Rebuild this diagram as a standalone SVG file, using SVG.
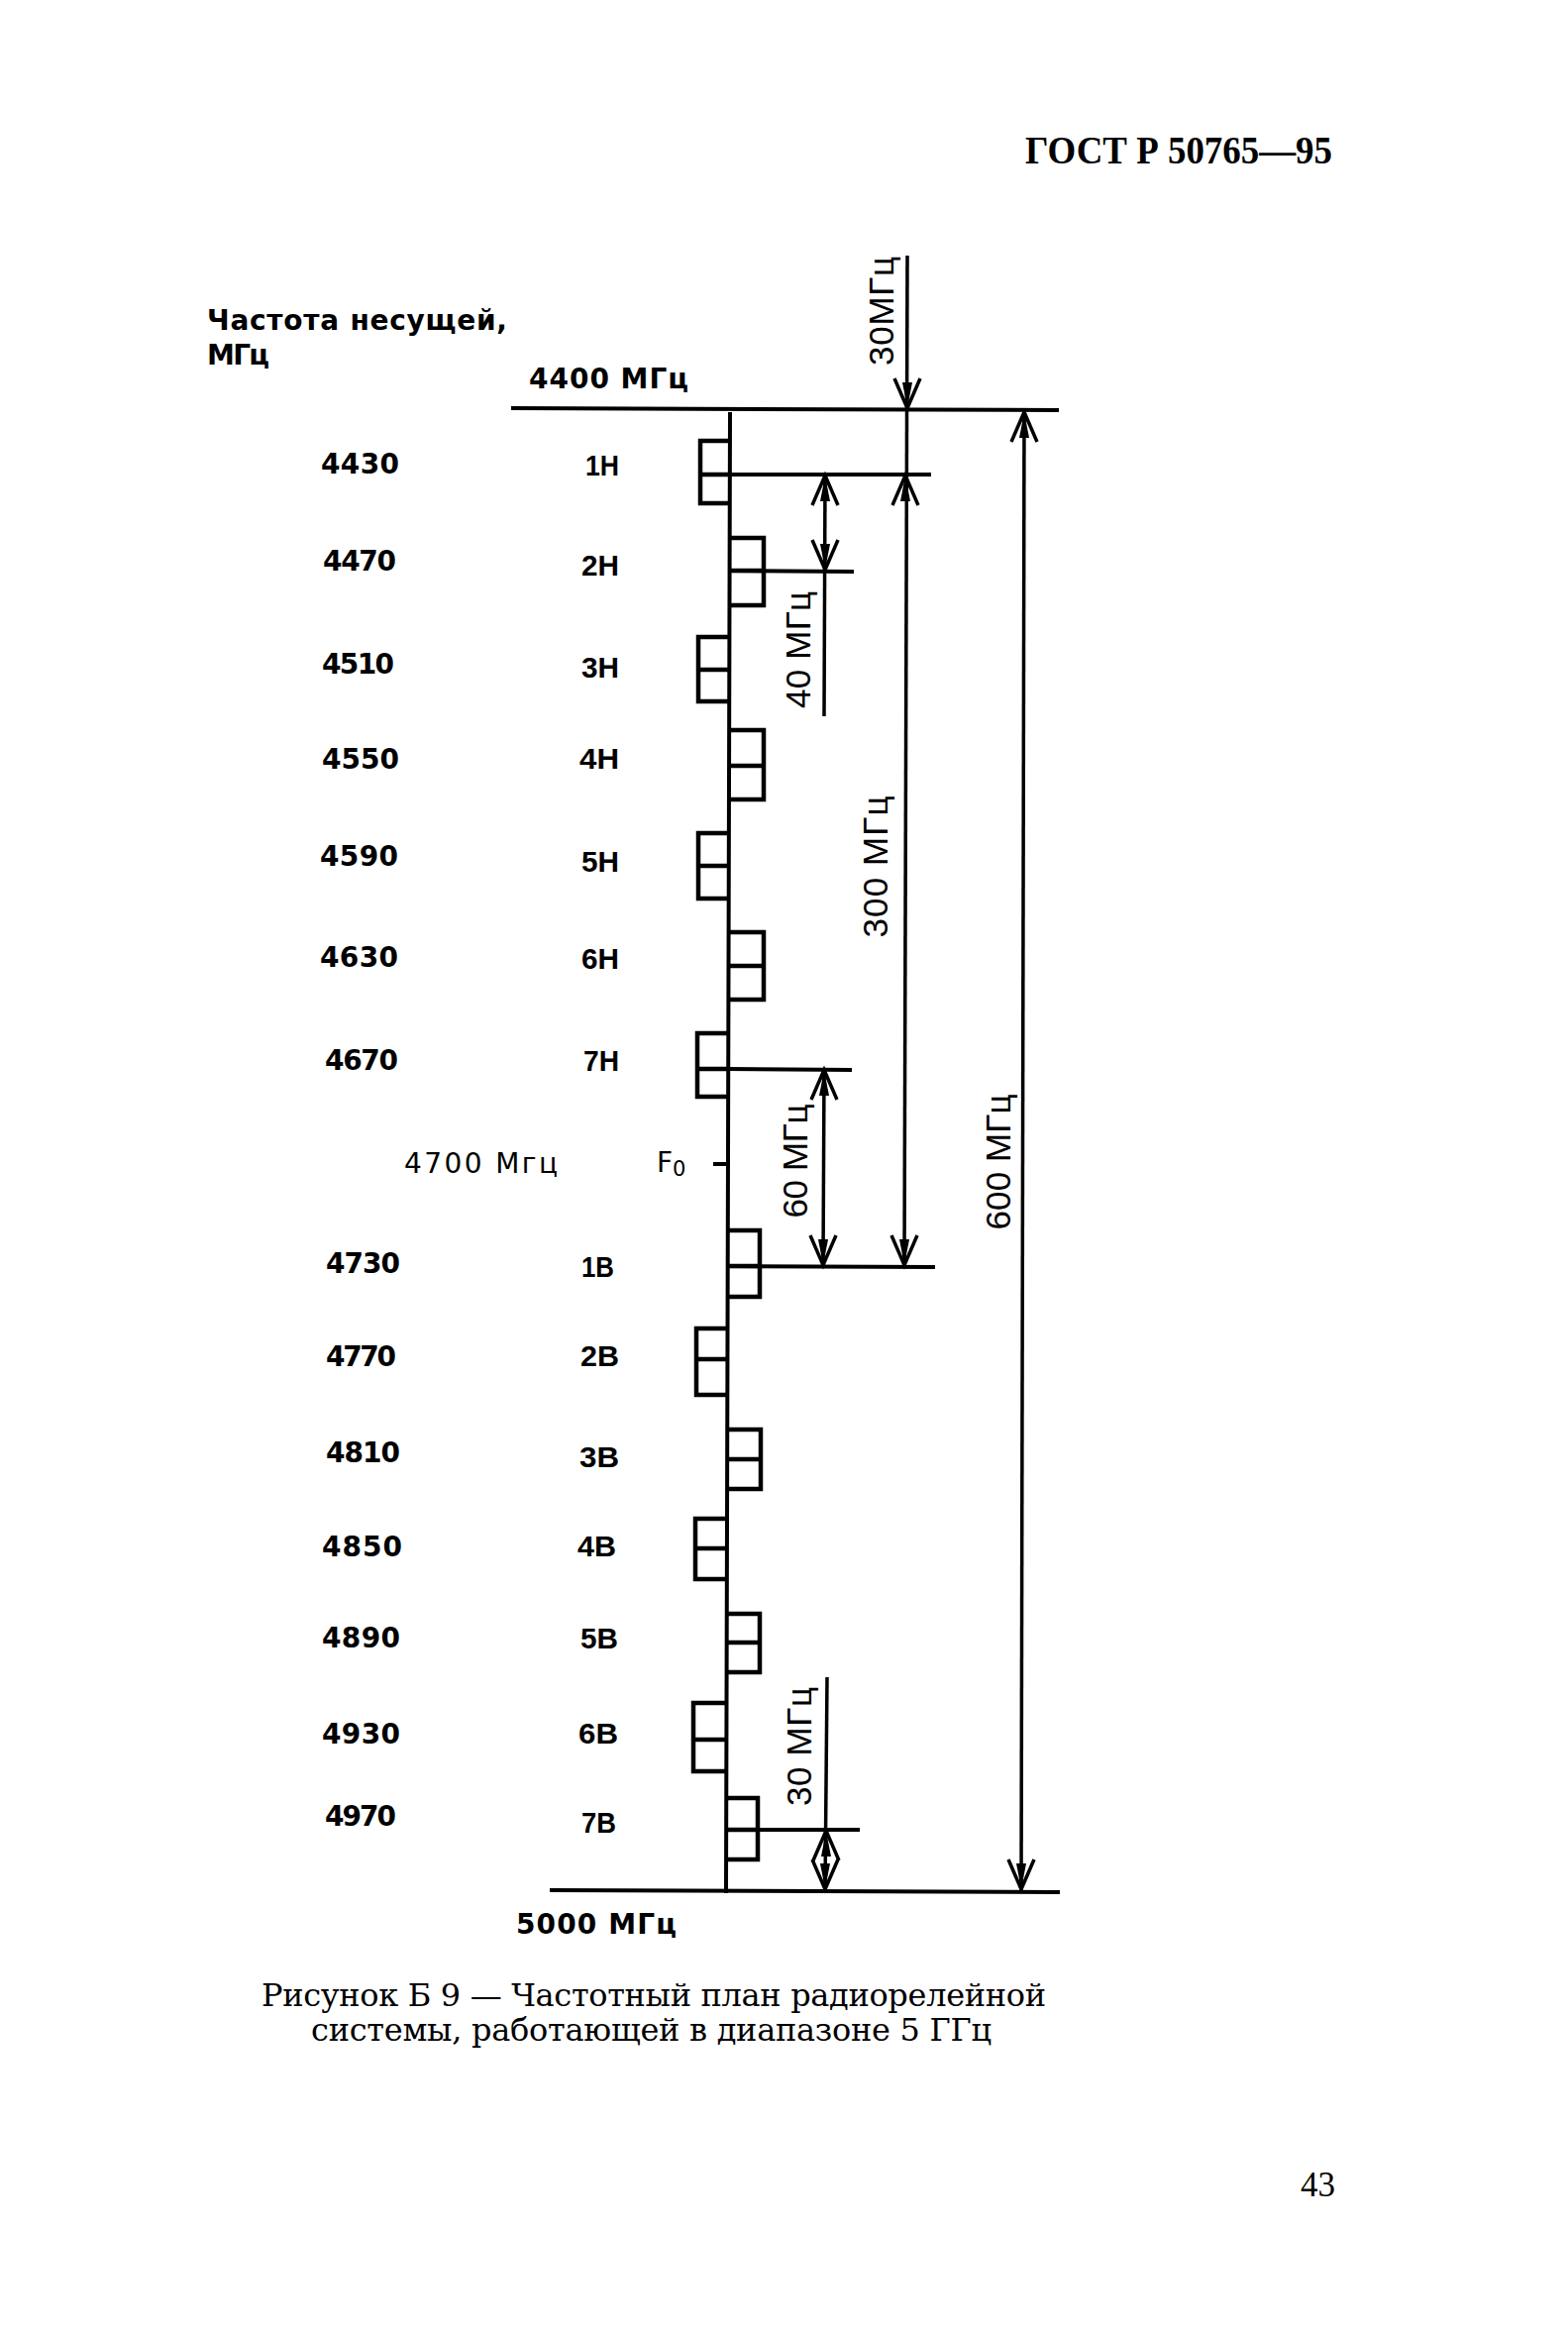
<svg xmlns="http://www.w3.org/2000/svg" width="1583" height="2356" viewBox="0 0 1583 2356">
<style>
.bg{fill:#fff}
.ln{stroke:#000;stroke-width:4;fill:none;stroke-linecap:square}
.box{stroke:#000;stroke-width:4.5;fill:none;stroke-linejoin:miter}
.shaft{stroke:#000;stroke-width:3.5;fill:none}
.num{font-family:"DejaVu Sans",sans-serif;font-weight:bold;font-size:28px;fill:#000}
.ch{font-family:"Liberation Sans",Arial,sans-serif;font-weight:bold;font-size:30px;fill:#000}
.lbl{font-family:"Liberation Sans",Arial,sans-serif;font-size:35px;fill:#000}
.reg{font-family:"DejaVu Sans",sans-serif;font-size:28px;fill:#000}
.cap{font-family:"DejaVu Serif",serif;font-size:32px;fill:#000}
.pg{font-family:"Liberation Serif","Times New Roman",serif;font-size:35px;fill:#000}
.hdr{font-family:"Liberation Serif","Times New Roman",serif;font-weight:bold;font-size:39px;fill:#000}
</style>
<defs>
<g id="ah"><path d="M-13,30 L0,0 L13,30" fill="none" stroke="#000" stroke-width="3.5"/><path d="M-5,26 L0,0 L5,26 Z" fill="#000"/></g>
</defs>
<rect class="bg" x="0" y="0" width="1583" height="2356"/>

<g id="header"><text class="hdr" x="1035" y="165" textLength="310" lengthAdjust="spacingAndGlyphs">ГОСТ Р 50765—95</text></g>

<g id="title">
<text class="num" x="209" y="333" textLength="303" lengthAdjust="spacing">Частота несущей,</text>
<text class="num" x="209" y="368" textLength="63" lengthAdjust="spacing">МГц</text>
</g>
<g id="f4400"><text class="num" x="534" y="392" textLength="161" lengthAdjust="spacing">4400 МГц</text></g>
<g id="f5000"><text class="num" x="521" y="1952" textLength="162" lengthAdjust="spacing">5000 МГц</text></g>

<g id="axis">
<line class="ln" x1="518" y1="412" x2="1067" y2="414"/>
<line class="ln" x1="557" y1="1908" x2="1068" y2="1910"/>
<line class="ln" x1="737" y1="418" x2="733" y2="1909"/>
</g>

<g id="ch-1H"><path class="box" d="M737,445 H707 V508 H737 M707,479 H737"/><text class="num" x="324" y="478" textLength="79" lengthAdjust="spacing">4430</text><text class="ch" x="591" y="480" textLength="34" lengthAdjust="spacingAndGlyphs">1Н</text></g>
<g id="ch-2H"><path class="box" d="M737,543 H771 V611 H737 M737,576 H771"/><text class="num" x="326" y="576" textLength="74" lengthAdjust="spacing">4470</text><text class="ch" x="587" y="581" textLength="38" lengthAdjust="spacingAndGlyphs">2Н</text></g>
<g id="ch-3H"><path class="box" d="M736,643 H705 V708 H736 M705,676 H736"/><text class="num" x="325" y="680" textLength="73" lengthAdjust="spacing">4510</text><text class="ch" x="587" y="684" textLength="38" lengthAdjust="spacingAndGlyphs">3Н</text></g>
<g id="ch-4H"><path class="box" d="M736,737 H771 V807 H736 M736,773 H771"/><text class="num" x="325" y="776" textLength="78" lengthAdjust="spacing">4550</text><text class="ch" x="585" y="776" textLength="40" lengthAdjust="spacingAndGlyphs">4Н</text></g>
<g id="ch-5H"><path class="box" d="M736,841 H705 V907 H736 M705,874 H736"/><text class="num" x="323" y="874" textLength="79" lengthAdjust="spacing">4590</text><text class="ch" x="587" y="880" textLength="38" lengthAdjust="spacingAndGlyphs">5Н</text></g>
<g id="ch-6H"><path class="box" d="M736,941 H771 V1009 H736 M736,975 H771"/><text class="num" x="323" y="976" textLength="79" lengthAdjust="spacing">4630</text><text class="ch" x="587" y="978" textLength="38" lengthAdjust="spacingAndGlyphs">6Н</text></g>
<g id="ch-7H"><path class="box" d="M735,1043 H704 V1107 H735 M704,1079 H735"/><text class="num" x="328" y="1080" textLength="74" lengthAdjust="spacing">4670</text><text class="ch" x="589" y="1081" textLength="36" lengthAdjust="spacingAndGlyphs">7Н</text></g>

<g id="f0"><text class="reg" x="408" y="1184" textLength="155" lengthAdjust="spacing">4700 Мгц</text><text class="reg" x="663" y="1183" font-size="27">F<tspan font-size="21" dy="4">0</tspan></text><line class="ln" x1="722" y1="1175" x2="735" y2="1175"/></g>

<g id="ch-1B"><path class="box" d="M735,1242 H767 V1309 H735 M735,1278 H767"/><text class="num" x="329" y="1285" textLength="75" lengthAdjust="spacing">4730</text><text class="ch" x="587" y="1289" textLength="33" lengthAdjust="spacingAndGlyphs">1В</text></g>
<g id="ch-2B"><path class="box" d="M735,1341 H703 V1408 H735 M703,1372 H735"/><text class="num" x="329" y="1379" textLength="71" lengthAdjust="spacing">4770</text><text class="ch" x="586" y="1379" textLength="39" lengthAdjust="spacingAndGlyphs">2В</text></g>
<g id="ch-3B"><path class="box" d="M735,1443 H768 V1503 H735 M735,1473 H768"/><text class="num" x="329" y="1476" textLength="75" lengthAdjust="spacing">4810</text><text class="ch" x="585" y="1481" textLength="40" lengthAdjust="spacingAndGlyphs">3В</text></g>
<g id="ch-4B"><path class="box" d="M734,1533 H702 V1594 H734 M702,1563 H734"/><text class="num" x="325" y="1571" textLength="81" lengthAdjust="spacing">4850</text><text class="ch" x="583" y="1571" textLength="39" lengthAdjust="spacingAndGlyphs">4В</text></g>
<g id="ch-5B"><path class="box" d="M734,1629 H767 V1688 H734 M734,1658 H767"/><text class="num" x="325" y="1663" textLength="79" lengthAdjust="spacing">4890</text><text class="ch" x="586" y="1664" textLength="38" lengthAdjust="spacingAndGlyphs">5В</text></g>
<g id="ch-6B"><path class="box" d="M734,1719 H700 V1788 H734 M700,1756 H734"/><text class="num" x="325" y="1760" textLength="79" lengthAdjust="spacing">4930</text><text class="ch" x="584" y="1760" textLength="40" lengthAdjust="spacingAndGlyphs">6В</text></g>
<g id="ch-7B"><path class="box" d="M734,1815 H765 V1877 H734 M734,1847 H765"/><text class="num" x="328" y="1843" textLength="72" lengthAdjust="spacing">4970</text><text class="ch" x="587" y="1850" textLength="35" lengthAdjust="spacingAndGlyphs">7В</text></g>

<g id="connectors">
<line class="ln" x1="737" y1="479" x2="938" y2="479"/>
<line class="ln" x1="737" y1="576" x2="860" y2="577"/>
<line class="ln" x1="735" y1="1079" x2="858" y2="1080"/>
<line class="ln" x1="735" y1="1278" x2="942" y2="1279"/>
<line class="ln" x1="734" y1="1847" x2="866" y2="1847"/>

<line class="shaft" x1="916" y1="258" x2="913" y2="1278"/>
<use href="#ah" transform="translate(916,412) rotate(180)"/>
<use href="#ah" transform="translate(914,480)"/>
<use href="#ah" transform="translate(913,1277) rotate(180)"/>

<line class="shaft" x1="833" y1="480" x2="832" y2="723"/>
<use href="#ah" transform="translate(833,480)"/>
<use href="#ah" transform="translate(833,575) rotate(180)"/>

<line class="shaft" x1="832" y1="1080" x2="831" y2="1278"/>
<use href="#ah" transform="translate(832,1080)"/>
<use href="#ah" transform="translate(831,1277) rotate(180)"/>

<line class="shaft" x1="835" y1="1693" x2="833" y2="1908"/>
<use href="#ah" transform="translate(834,1848)"/>
<use href="#ah" transform="translate(833,1907) rotate(180)"/>

<line class="shaft" x1="1034" y1="415" x2="1031" y2="1908"/>
<use href="#ah" transform="translate(1034,416)"/>
<use href="#ah" transform="translate(1031,1907) rotate(180)"/>
</g>

<g id="dim-labels">
<text class="lbl" text-anchor="middle" transform="translate(902,314) rotate(-90)" font-size="37" textLength="110" lengthAdjust="spacing">30МГц</text>
<text class="lbl" text-anchor="middle" transform="translate(818,656) rotate(-90)" textLength="118" lengthAdjust="spacing">40 МГц</text>
<text class="lbl" text-anchor="middle" transform="translate(896,875) rotate(-90)" textLength="143" lengthAdjust="spacing">300 МГц</text>
<text class="lbl" text-anchor="middle" transform="translate(815,1172) rotate(-90)" textLength="115" lengthAdjust="spacing">60 МГц</text>
<text class="lbl" text-anchor="middle" transform="translate(1020,1173) rotate(-90)" textLength="137" lengthAdjust="spacing">600 МГц</text>
<text class="lbl" text-anchor="middle" transform="translate(819,1763) rotate(-90)" textLength="120" lengthAdjust="spacing">30 МГц</text>
</g>

<g id="caption">
<text class="cap" x="264" y="2025" textLength="792" lengthAdjust="spacing">Рисунок Б 9 — Частотный план радиорелейной</text>
<text class="cap" x="314" y="2060" textLength="687" lengthAdjust="spacing">системы, работающей в диапазоне 5 ГГц</text>
</g>
<g id="page"><text class="pg" x="1313" y="2217">43</text></g>
</svg>
